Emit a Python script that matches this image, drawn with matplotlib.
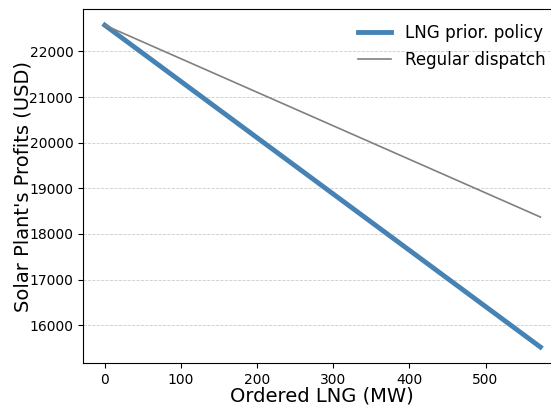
import matplotlib
matplotlib.use("Agg")
import matplotlib.pyplot as plt

# Ordered LNG quantity (MW) and the solar plant's profit under each dispatch rule
ordered_lng = [0, 572]
profit_lng_priority = [22575, 15520]
profit_regular = [22575, 18370]

fig = plt.figure(figsize=(5.51, 4.09), dpi=100)
ax = fig.add_axes([0.1506, 0.1125, 0.8494, 0.865])

ax.plot(ordered_lng, profit_lng_priority, color="steelblue", linewidth=3.5,
        label="LNG prior. policy")
ax.plot(ordered_lng, profit_regular, color="gray", linewidth=1.2,
        label="Regular dispatch")

ax.set_xlim(-28.6, 586)
ax.set_ylim(15170, 22925)
ax.set_xticks([0, 100, 200, 300, 400, 500])
ax.set_yticks([16000, 17000, 18000, 19000, 20000, 21000, 22000])
ax.tick_params(labelsize=10)
ax.yaxis.grid(True, linestyle="--", color="#cccccc", linewidth=0.6)
ax.set_axisbelow(True)
ax.spines["right"].set_visible(False)

ax.set_xlabel("Ordered LNG (MW)", fontsize=14, labelpad=0, x=0.511)
ax.set_ylabel("Solar Plant's Profits (USD)", fontsize=14, labelpad=-2)
ax.legend(loc="upper right", frameon=False, fontsize=12.1,
          bbox_to_anchor=(1.02, 1.0))

fig.savefig("out.png", dpi=100)
